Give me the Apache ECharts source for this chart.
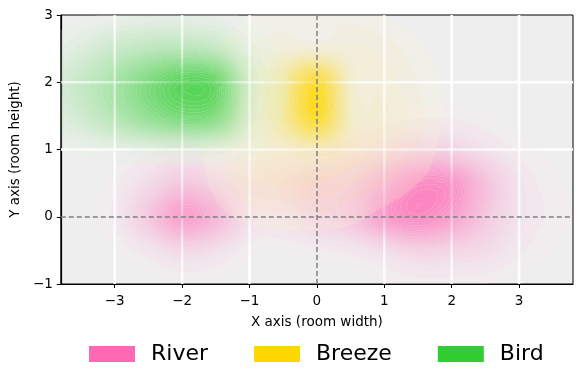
<!DOCTYPE html>
<html><head><meta charset="utf-8">
<script src="https://cdn.jsdelivr.net/npm/echarts@6/dist/echarts.min.js"></script>
<style>html,body{margin:0;padding:0;background:#fff}#c{width:582px;height:384px}</style>
</head><body><div id="c"></div>
<script>
// sampled intensity grid (columns = x, rows = y)
const gridX = [-4,-3.5,-3,-2.5,-2,-1.5,-1,-0.5,0,0.5,1,1.5,2,2.5,3,3.5,4];
const gridY = [3,2.5,2,1.5,1,0.5,0,-0.5,-1];
const seriesNames = ['River','Breeze','Bird'];
const seriesColors = ['#ff69b4','#ffd700','#32cd32'];
const river = [
 [0,0,0,0,0,0,0,0,0,0,0,0,0,0,0,0,0],
 [0,0,0,0,0,0,0,0,0,0,0,0,0,0,0,0,0],
 [0,0,0,0,0,0,0,0,0,0,0,0.01,0.01,0,0,0,0],
 [0,0,0,0,0.01,0.01,0,0,0,0,0.02,0.04,0.04,0.02,0,0,0],
 [0,0,0,0.04,0.07,0.05,0.02,0.03,0.05,0.09,0.16,0.25,0.22,0.12,0.04,0.01,0],
 [0,0,0.04,0.15,0.3,0.22,0.12,0.15,0.25,0.28,0.5,0.72,0.68,0.35,0.1,0.03,0.01],
 [0,0.01,0.06,0.3,0.6,0.42,0.13,0.12,0.22,0.32,0.62,0.76,0.6,0.3,0.1,0.04,0.01],
 [0,0,0.02,0.08,0.18,0.12,0.03,0.02,0.04,0.07,0.14,0.22,0.2,0.15,0.06,0.02,0],
 [0,0,0,0,0.01,0.01,0,0,0,0,0.02,0.03,0.03,0.02,0,0,0]
];
const breeze = [
 [0,0,0,0,0,0,0.02,0.04,0.05,0.04,0.02,0,0,0,0,0,0],
 [0,0,0,0,0,0.02,0.05,0.09,0.1,0.09,0.07,0.03,0,0,0,0,0],
 [0,0,0,0,0,0.03,0.08,0.34,0.8,0.15,0.1,0.05,0.01,0,0,0,0],
 [0,0,0,0,0,0.04,0.1,0.36,0.85,0.18,0.12,0.06,0.01,0,0,0,0],
 [0,0,0,0,0,0.04,0.1,0.15,0.22,0.15,0.1,0.05,0,0,0,0,0],
 [0,0,0,0,0,0.03,0.1,0.12,0.12,0.08,0.05,0.02,0,0,0,0,0],
 [0,0,0,0,0,0.01,0.03,0.04,0.04,0.03,0.01,0,0,0,0,0,0],
 [0,0,0,0,0,0,0,0,0,0,0,0,0,0,0,0,0],
 [0,0,0,0,0,0,0,0,0,0,0,0,0,0,0,0,0]
];
const bird = [
 [0,0.01,0.03,0.05,0.05,0.04,0.01,0,0,0,0,0,0,0,0,0,0],
 [0.03,0.1,0.2,0.27,0.3,0.24,0.07,0.01,0,0,0.02,0,0,0,0,0,0],
 [0.1,0.22,0.38,0.6,0.78,0.72,0.15,0.03,0,0,0,0,0,0,0,0,0],
 [0.07,0.17,0.32,0.5,0.64,0.58,0.12,0.02,0,0,0,0,0,0,0,0,0],
 [0.01,0.03,0.06,0.08,0.1,0.08,0.03,0,0,0,0,0,0,0,0,0,0],
 [0,0,0,0,0,0,0,0,0,0,0,0,0,0,0,0,0],
 [0,0,0,0,0,0,0,0,0,0,0,0,0,0,0,0,0],
 [0,0,0,0,0,0,0,0,0,0,0,0,0,0,0,0,0],
 [0,0,0,0,0,0,0,0,0,0,0,0,0,0,0,0,0]
];
const xTicks = [-3,-2,-1,0,1,2,3];
const yTicks = [-1,0,1,2,3];
const xGridLines = [-3,-2,-1,1,2,3];
const yGridLines = [1,2];
const levels = [];
for (let l = 0.02; l < 1; l += 0.03) levels.push(+l.toFixed(3));
const SUB = 4; // render-time subdivision of each grid cell
const grids = [river, breeze, bird];

function hexRgb(h){return [parseInt(h.slice(1,3),16),parseInt(h.slice(3,5),16),parseInt(h.slice(5,7),16)];}
function bandAlpha(t){ const k=Math.min(0.86,t); return k + 0.16*(1-k); }
function bandColor(base, t){
  const k = Math.min(0.86, t);
  const w = 0.16*(1-k);
  const a = w + k;
  const c = base.map(ch => Math.round((255*w + ch*k)/a));
  return 'rgba('+c[0]+','+c[1]+','+c[2]+','+a.toFixed(3)+')';
}
function clip(poly, L, above){
  const out=[];
  for(let i=0;i<poly.length;i++){
    const p=poly[i], q=poly[(i+1)%poly.length];
    const pin = above ? p[2]>=L : p[2]<L;
    const qin = above ? q[2]>=L : q[2]<L;
    if(pin) out.push(p);
    if(pin!==qin){ const t=(L-p[2])/(q[2]-p[2]); out.push([p[0]+t*(q[0]-p[0]), p[1]+t*(q[1]-p[1]), L]); }
  }
  return out;
}
function cr(p0,p1,p2,p3,t){
  return 0.5*((2*p1)+(-p0+p2)*t+(2*p0-5*p1+4*p2-p3)*t*t+(-p0+3*p1-3*p2+p3)*t*t*t);
}
function sample(grid, fi, fj){
  const nI=grid.length, nJ=grid[0].length;
  fi=Math.max(0,Math.min(nI-1,fi)); fj=Math.max(0,Math.min(nJ-1,fj));
  const i=Math.min(Math.floor(fi), nI-2), j=Math.min(Math.floor(fj), nJ-2);
  const ti=fi-i, tj=fj-j;
  const g=(a,b)=>grid[Math.max(0,Math.min(nI-1,a))][Math.max(0,Math.min(nJ-1,b))];
  const rows=[];
  for(let di=-1;di<=2;di++) rows.push(cr(g(i+di,j-1),g(i+di,j),g(i+di,j+1),g(i+di,j+2),tj));
  return Math.max(0, Math.min(1, cr(rows[0],rows[1],rows[2],rows[3],ti)));
}
// fractional grid index of a data point
const dStepX = gridX[1]-gridX[0], dStepY = gridY[1]-gridY[0];
function fieldCover(x, y){
  const fi=(y-gridY[0])/dStepY, fj=(x-gridX[0])/dStepX;
  let keep=1;
  grids.forEach(g=>{ const v=sample(g,fi,fj); if(v>=levels[0]) keep*=1-bandAlpha(v); });
  return 1-keep;
}
function contourChildren(api, grid, color){
  const base = hexRgb(color);
  const nI=(gridY.length-1)*SUB+1, nJ=(gridX.length-1)*SUB+1;
  const x0=api.coord([gridX[0],gridY[0]]), x1=api.coord([gridX[gridX.length-1],gridY[gridY.length-1]]);
  const P=[];
  for(let i=0;i<nI;i++){ const row=[];
    for(let j=0;j<nJ;j++){
      row.push([x0[0]+(x1[0]-x0[0])*j/(nJ-1), x0[1]+(x1[1]-x0[1])*i/(nI-1), sample(grid, i/SUB, j/SUB)]);
    } P.push(row); }
  const tris = [];
  for(let i=0;i<nI-1;i++) for(let j=0;j<nJ-1;j++){
    const a=P[i][j], b=P[i][j+1], c=P[i+1][j+1], d=P[i+1][j];
    if(Math.max(a[2],b[2],c[2],d[2])<levels[0]) continue;
    tris.push([a,b,c]); tris.push([a,c,d]);
  }
  const children=[];
  levels.forEach((L,li)=>{
    const U = li<levels.length-1 ? levels[li+1] : null;
    let path='';
    tris.forEach(t=>{
      if(Math.max(t[0][2],t[1][2],t[2][2])<L) return;
      if(U!==null && Math.min(t[0][2],t[1][2],t[2][2])>=U) return;
      let p = clip(t, L, true);
      if(U!==null && p.length) p = clip(p, U, false);
      if(p.length<3) return;
      path += 'M'+p.map(v=>v[0].toFixed(2)+' '+v[1].toFixed(2)).join('L')+'Z';
    });
    if(path) children.push({type:'path', shape:{pathData:path}, style:{fill:bandColor(base, U!==null?(L+U)/2:L), stroke:null}, silent:true});
  });
  return children;
}
// white grid lines, faded where the coloured field covers them
function gridLineChildren(api, cs){
  const ch=[]; const step=3;
  xGridLines.forEach(x=>{
    const px=api.coord([x,0])[0];
    for(let py=cs.y; py<cs.y+cs.height; py+=step){
      const yy=api.coord([x,0])[1]; // placeholder for mapping
      const dv=api.coord([x,1])[1]-yy; const yData=(py+step/2-yy)/dv;
      const op=1-fieldCover(x, yData);
      if(op>0.02) ch.push({type:'line', shape:{x1:px,y1:py,x2:px,y2:Math.min(py+step,cs.y+cs.height)}, style:{stroke:'rgba(255,255,255,'+op.toFixed(3)+')', lineWidth:2.5, lineCap:'butt'}});
    }
  });
  yGridLines.forEach(y=>{
    const py=api.coord([0,y])[1];
    const x0=api.coord([0,0])[0], du=api.coord([1,0])[0]-x0;
    for(let px=cs.x; px<cs.x+cs.width; px+=step){
      const xData=(px+step/2-x0)/du;
      const op=1-fieldCover(xData, y);
      if(op>0.02) ch.push({type:'line', shape:{x1:px,y1:py,x2:Math.min(px+step,cs.x+cs.width),y2:py}, style:{stroke:'rgba(255,255,255,'+op.toFixed(3)+')', lineWidth:2.5, lineCap:'butt'}});
    }
  });
  return ch;
}
const chart = echarts.init(document.getElementById('c'));
const font = 'DejaVu Sans';
const series = [{
  type:'custom', name:'field', z:5, silent:true, coordinateSystem:'cartesian2d', data:[[0,0]],
  renderItem:function(params, api){
    const cs=params.coordSys; let ch=[];
    grids.forEach((g,k)=>{ ch = ch.concat(contourChildren(api, g, seriesColors[k])); });
    ch = ch.concat(gridLineChildren(api, cs));
    ch.forEach((e,idx)=>{ e.z2 = idx; });
    return {type:'group', children:ch, clipPath:{type:'rect', shape:{x:cs.x,y:cs.y,width:cs.width,height:cs.height}}};
  }
}];
seriesNames.forEach((n,k)=>{
  series.push({type:'scatter', name:n, data:[], itemStyle:{color:seriesColors[k], opacity:1}});
});
series.push({type:'line', data:[], z:10, silent:true,
  markLine:{z:10, silent:true, symbol:'none', label:{show:false},
    lineStyle:{color:'#808080', width:1.5, type:[5,3]},
    data:[{xAxis:0},{yAxis:0}]}});
const minus = v=>String(v).replace('-','\u2212');
chart.setOption({
  animation:false,
  textStyle:{fontFamily:font},
  grid:{left:60, right:9, top:15, bottom:100, show:true, backgroundColor:'#eeeeee', borderColor:'#000', borderWidth:1},
  xAxis:{type:'value', min:-3.8, max:3.8,
    name:'X axis (room width)', nameLocation:'middle', nameGap:31,
    nameTextStyle:{color:'#000', fontSize:13.5, fontFamily:font},
    axisLine:{show:true, onZero:false, lineStyle:{color:'#000', width:1.2}},
    axisTick:{show:true, length:4, lineStyle:{color:'#000'}, customValues:xTicks},
    axisLabel:{color:'#000', fontSize:13.5, margin:10, fontFamily:font, customValues:xTicks, formatter:minus},
    splitLine:{show:false}},
  yAxis:{type:'value', min:-1, max:3,
    name:'Y axis (room height)', nameLocation:'middle', nameGap:38,
    nameTextStyle:{color:'#000', fontSize:13.5, fontFamily:font},
    axisLine:{show:true, onZero:false, lineStyle:{color:'#000', width:1.2}},
    axisTick:{show:true, length:4, lineStyle:{color:'#000'}, customValues:yTicks},
    axisLabel:{color:'#000', fontSize:13.5, margin:8, fontFamily:font, customValues:yTicks, formatter:minus},
    splitLine:{show:false}},
  legend:{left:84, top:338, itemWidth:46, itemHeight:16, itemGap:46, icon:'rect',
    data:seriesNames.map((n,k)=>({name:n, itemStyle:{color:seriesColors[k], opacity:1}})),
    textStyle:{fontSize:22, color:'#000', fontFamily:font, padding:[0,0,0,11], lineHeight:22}},
  series:series
});
</script></body></html>
